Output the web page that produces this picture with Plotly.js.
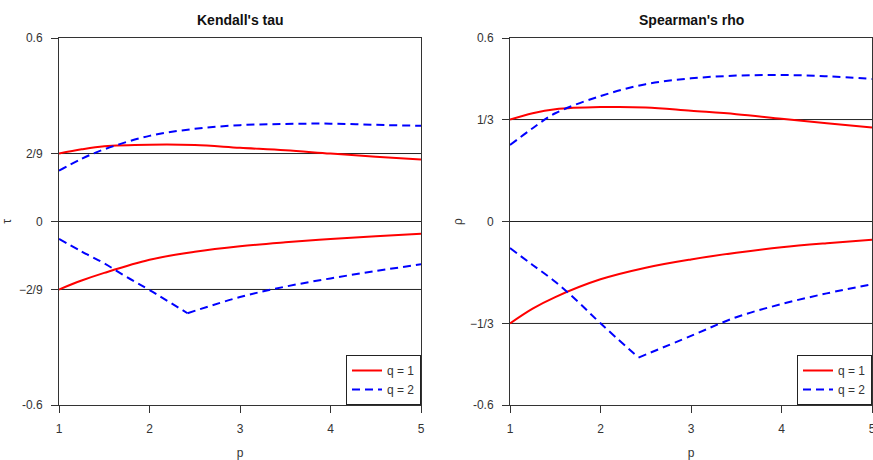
<!DOCTYPE html>
<html>
<head>
<meta charset="utf-8">
<script src="https://cdn.plot.ly/plotly-3.0.1.min.js"></script>
<style>html,body{margin:0;padding:0;background:#fff}#chart{width:873px;height:460px}</style>
</head>
<body>
<div id="chart"></div>
<script>
// ---- data ----
const p = [1, 1.25, 1.5, 2, 2.5, 3, 3.5, 4, 4.5, 5];
const pDown = [1, 1.25, 1.5, 1.75, 2, 2.42];
const pUp = [2.42, 3, 3.5, 4, 4.5, 5];

const tauQ1Upper = [0.2222, 0.236, 0.246, 0.251, 0.250, 0.241, 0.233, 0.222, 0.212, 0.203];
const tauQ2Upper = [0.166, 0.205, 0.236, 0.280, 0.303, 0.315, 0.319, 0.320, 0.316, 0.313];
const tauQ1Lower = [-0.2222, -0.193, -0.168, -0.125, -0.099, -0.081, -0.068, -0.057, -0.048, -0.040];
const tauQ2LowerDown = [-0.057, -0.098, -0.137, -0.182, -0.224, -0.300];
const tauQ2LowerUp = [-0.300, -0.247, -0.213, -0.186, -0.162, -0.140];

const rhoQ1Upper = [0.3333, 0.354, 0.367, 0.374, 0.373, 0.362, 0.351, 0.336, 0.321, 0.307];
const rhoQ2Upper = [0.250, 0.305, 0.354, 0.410, 0.449, 0.468, 0.477, 0.479, 0.475, 0.466];
const rhoQ1Lower = [-0.3333, -0.285, -0.247, -0.189, -0.151, -0.124, -0.102, -0.084, -0.071, -0.060];
const rhoQ2LowerDown = [-0.087, -0.142, -0.197, -0.262, -0.333, -0.445];
const rhoQ2LowerUp = [-0.445, -0.374, -0.313, -0.270, -0.235, -0.205];

const xTicks = [1, 2, 3, 4, 5];
const tauTickVals = [-0.6, -2/9, 0, 2/9, 0.6];
const tauTickText = ['-0.6', '\u22122/9', '0', '2/9', '0.6'];
const rhoTickVals = [-0.6, -1/3, 0, 1/3, 0.6];
const rhoTickText = ['-0.6', '\u22121/3', '0', '1/3', '0.6'];
const tauRefLines = [-2/9, 0, 2/9];
const rhoRefLines = [-1/3, 0, 1/3];
const legendNames = ['q = 1', 'q = 2'];
const panelTitles = ["Kendall's tau", "Spearman's rho"];

// ---- styles ----
const W = 873, H = 460;
const FONT = 'Liberation Sans, Arial, sans-serif';
const red = {color: '#FF0000', width: 2, shape: 'spline'};
const blue = {color: '#0000FF', width: 2, dash: '8px,5px', shape: 'spline'};

function tr(x, y, line, name, show, xa, ya, leg) {
  return {x: x, y: y, type: 'scatter', mode: 'lines', line: line, name: name,
          showlegend: show, xaxis: xa, yaxis: ya, legend: leg, hoverinfo: 'skip'};
}

const data = [
  tr(p, tauQ1Upper, red, legendNames[0], true, 'x', 'y', 'legend'),
  tr(p, tauQ1Lower, red, legendNames[0], false, 'x', 'y', 'legend'),
  tr(p, tauQ2Upper, blue, legendNames[1], true, 'x', 'y', 'legend'),
  tr(pDown, tauQ2LowerDown, blue, legendNames[1], false, 'x', 'y', 'legend'),
  tr(pUp, tauQ2LowerUp, blue, legendNames[1], false, 'x', 'y', 'legend'),
  tr(p, rhoQ1Upper, red, legendNames[0], true, 'x2', 'y2', 'legend2'),
  tr(p, rhoQ1Lower, red, legendNames[0], false, 'x2', 'y2', 'legend2'),
  tr(p, rhoQ2Upper, blue, legendNames[1], true, 'x2', 'y2', 'legend2'),
  tr(pDown, rhoQ2LowerDown, blue, legendNames[1], false, 'x2', 'y2', 'legend2'),
  tr(pUp, rhoQ2LowerUp, blue, legendNames[1], false, 'x2', 'y2', 'legend2')
];

const titleFont = {family: FONT, size: 12, color: '#333'};
const ax = (dom, anchor) => ({
  domain: dom, anchor: anchor, showline: true, mirror: true, linecolor: '#333', linewidth: 1,
  ticks: 'outside', ticklen: 7, tickcolor: '#333', showgrid: false, zeroline: false,
  ticklabelstandoff: 6, ticklabeloverflow: 'allow',
  tickfont: {family: FONT, size: 12, color: '#333'}, fixedrange: true
});

const yDom = [55 / H, 422 / H];
const shapes = [];
tauRefLines.forEach(v => shapes.push({type: 'line', xref: 'x domain', yref: 'y', x0: 0, x1: 1, y0: v, y1: v, line: {color: '#222', width: 1}, layer: 'below'}));
rhoRefLines.forEach(v => shapes.push({type: 'line', xref: 'x2 domain', yref: 'y2', x0: 0, x1: 1, y0: v, y1: v, line: {color: '#222', width: 1}, layer: 'below'}));

const layout = {
  width: W, height: H, margin: {l: 0, r: 0, t: 0, b: 0},
  paper_bgcolor: '#fff', plot_bgcolor: '#fff',
  font: {family: FONT, size: 12, color: '#333'},
  xaxis: Object.assign(ax([59 / W, 421 / W], 'y'), {range: [1, 5], tickvals: xTicks, title: {text: 'p', standoff: 19, font: titleFont}}),
  yaxis: Object.assign(ax(yDom, 'x'), {range: [-0.6, 0.6], tickvals: tauTickVals, ticktext: tauTickText, title: {text: '\u03c4', standoff: 13, font: titleFont}}),
  xaxis2: Object.assign(ax([510 / W, 872 / W], 'y2'), {range: [1, 5], tickvals: xTicks, title: {text: 'p', standoff: 19, font: titleFont}}),
  yaxis2: Object.assign(ax(yDom, 'x2'), {range: [-0.6, 0.6], tickvals: rhoTickVals, ticktext: rhoTickText, title: {text: '\u03c1', standoff: 4, font: titleFont}}),
  shapes: shapes,
  legend: {x: 421 / W, xanchor: 'right', y: 55 / H, yanchor: 'bottom', bordercolor: '#222', borderwidth: 1, bgcolor: '#fff', font: {family: FONT, size: 12, color: '#333'}, tracegroupgap: 0},
  legend2: {x: 872 / W, xanchor: 'right', y: 55 / H, yanchor: 'bottom', bordercolor: '#222', borderwidth: 1, bgcolor: '#fff', font: {family: FONT, size: 12, color: '#333'}, tracegroupgap: 0},
  annotations: [
    {text: panelTitles[0], xref: 'paper', yref: 'paper', x: 240 / W, y: (H - 20) / H, xanchor: 'center', yanchor: 'middle', showarrow: false, font: {family: FONT, size: 14, color: '#111', weight: 'bold'}},
    {text: panelTitles[1], xref: 'paper', yref: 'paper', x: 691 / W, y: (H - 20) / H, xanchor: 'center', yanchor: 'middle', showarrow: false, font: {family: FONT, size: 14, color: '#111', weight: 'bold'}}
  ]
};

Plotly.newPlot('chart', data, layout, {displayModeBar: false, staticPlot: true});
</script>
</body>
</html>
